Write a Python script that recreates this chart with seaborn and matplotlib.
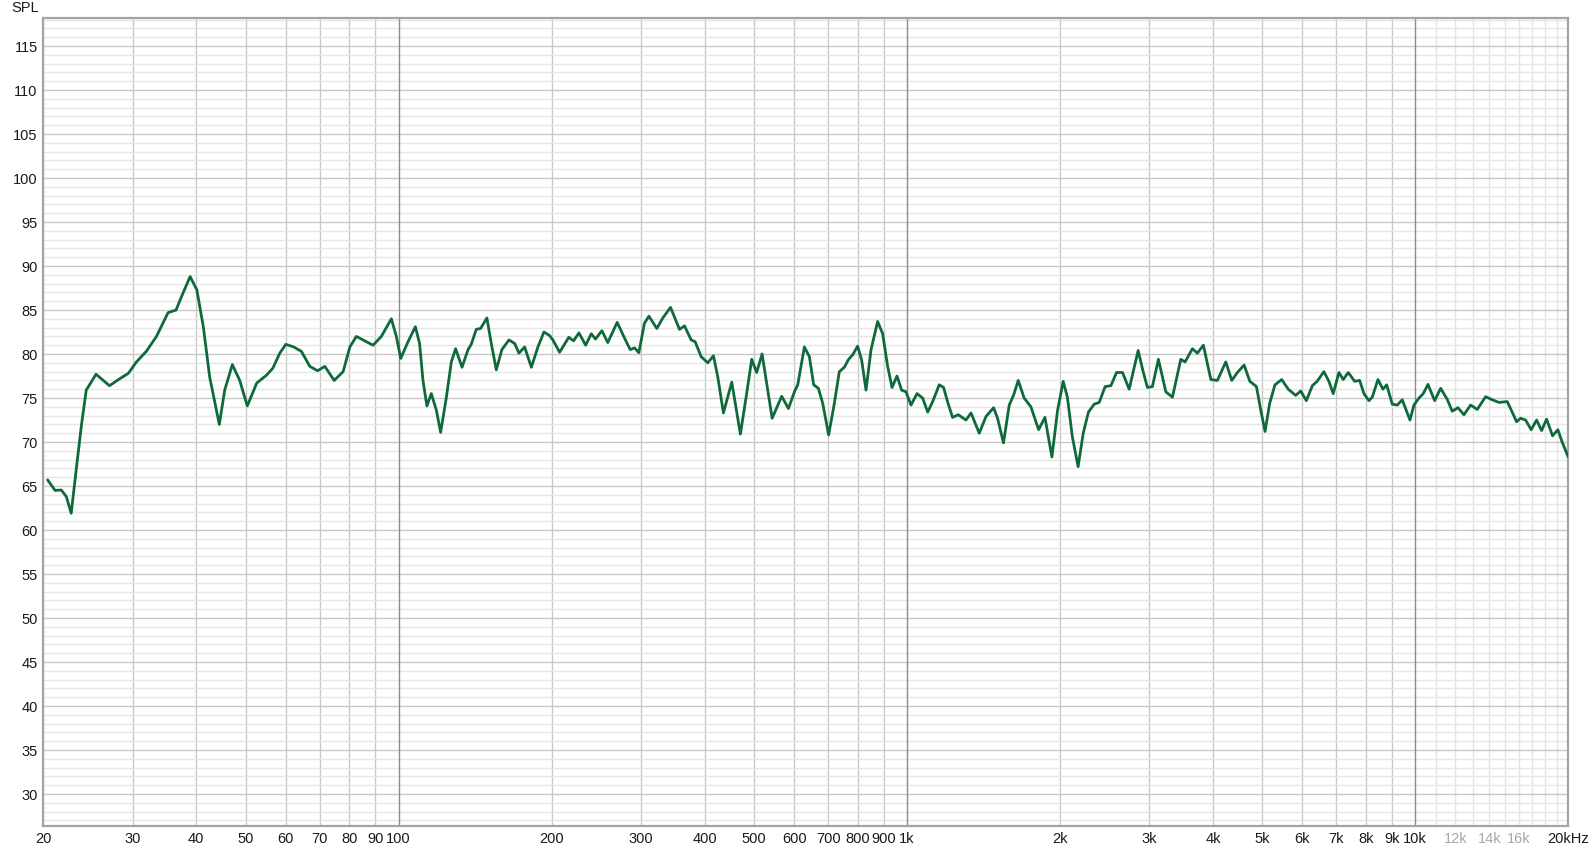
import matplotlib
matplotlib.use("Agg")
import matplotlib.pyplot as plt
from matplotlib.ticker import NullLocator
import seaborn as sns

# ---------------- DATA ----------------
freq_hz = [
    20.4, 21.1, 21.7, 22.2, 22.7, 23.3, 23.8, 24.3, 25.4, 27.0, 28.3, 29.4, 30.5, 31.9, 33.4, 35.2,
    36.5, 37.4, 38.9, 40.1, 41.3, 42.5, 44.4, 45.5, 47.1, 48.7, 50.4, 52.6, 55.0, 56.6, 58.4, 60.0, 62.2,
    64.4, 66.9, 69.3, 71.6, 74.7, 77.8, 80.2, 82.6, 85.8, 89.1, 92.5, 96.8, 99.0, 101, 104.4, 107.9,
    110, 111.7, 113.7, 116, 118.7, 121, 124.2, 127, 129.5, 133.3, 137, 139, 142.2, 145, 149.2, 152.2,
    155.7, 159.7, 164.9, 169.2, 172.5, 177, 182.5, 188, 193.2, 198.2,
    201.2, 207.4, 216.2, 221, 226.4, 233.4, 239.4, 244, 251.2, 258, 269.2, 278.4, 285.6, 291.2, 297,
    304.6, 310.8, 322.2, 331, 342.8, 349, 357, 365.2, 376.4, 383.2, 393.8, 405.8, 416.4, 424.6, 435.6,
    452.4, 470.4, 482.8, 495.2, 506.4, 519, 532.4, 543.2, 567.2, 584.8, 600.8, 610, 628.6,
    643, 655.6, 669.8, 683, 701.6, 720, 736.4, 753.4, 768.2, 782.2, 800, 814.8, 831, 850.2, 876, 896.2,
    916.6, 935, 956.4, 976.4, 996, 1019, 1047, 1074, 1099, 1124, 1158, 1181, 1202, 1230, 1262, 1307,
    1337, 1388, 1431, 1481, 1508, 1549, 1590, 1621, 1656, 1701, 1754, 1816, 1869, 1929, 1979,
    2030, 2069, 2116, 2172, 2223, 2276, 2336, 2390, 2455, 2520, 2585, 2656, 2737, 2851, 2916, 2973,
    3041, 3125, 3232, 3330, 3458, 3526, 3645, 3728, 3831, 3963, 4082, 4240, 4357, 4469, 4607, 4728,
    4872, 4969, 5066, 5173, 5298, 5462, 5628, 5819, 5954, 6107, 6276,
    6414, 6612, 6764, 6898, 7078, 7218, 7384, 7602, 7776, 7928, 8110, 8233, 8448, 8641, 8788, 9013,
    9219, 9430, 9766, 9943, 10172, 10372, 10596, 10921, 11221, 11561, 11826, 12137, 12472, 12856,
    13245, 13758, 14177, 14613, 15171, 15517, 15830, 16118, 16488, 16911, 17332, 17728, 18132, 18630,
    19084, 19457, 20000,
]

spl_db = [
    65.7, 64.5, 64.55, 63.8, 61.9, 67.6, 72.1, 75.9, 77.7, 76.4, 77.2, 77.8, 79.1, 80.3, 82.0, 84.7,
    85.0, 86.5, 88.8, 87.3, 83.1, 77.4, 72.0, 75.9, 78.8, 77.0, 74.1, 76.7, 77.6, 78.4, 80.1, 81.1, 80.8,
    80.3, 78.6, 78.1, 78.6, 77.0, 78.0, 80.8, 82.0, 81.5, 81.0, 82.0, 84.0, 82.0, 79.5, 81.4, 83.1,
    81.2, 77.0, 74.1, 75.5, 73.6, 71.1, 75.1, 79.1, 80.6, 78.5, 80.5, 81.1, 82.8, 82.9, 84.1, 81.2,
    78.2, 80.5, 81.6, 81.2, 80.1, 80.8, 78.5, 80.8, 82.5, 82.1,
    81.6, 80.2, 81.9, 81.5, 82.4, 81.0, 82.3, 81.7, 82.65, 81.3, 83.6, 81.8, 80.5, 80.7, 80.15,
    83.5, 84.3, 82.9, 84.1, 85.3, 84.2, 82.8, 83.2, 81.6, 81.4, 79.7, 79.0, 79.8, 77.4, 73.3,
    76.8, 70.9, 75.1, 79.4, 77.9, 80.0, 75.9, 72.7, 75.2, 73.8, 75.7, 76.5, 80.8,
    79.7, 76.5, 76.1, 74.4, 70.8, 74.4, 78.0, 78.5, 79.4, 79.9, 80.9, 79.3, 75.9, 80.5, 83.7, 82.3,
    78.6, 76.2, 77.5, 75.9, 75.7, 74.2, 75.5, 75.0, 73.4, 74.6, 76.5, 76.2, 74.6, 72.8, 73.1, 72.5,
    73.3, 71.0, 72.9, 73.9, 72.7, 69.9, 74.2, 75.3, 77.0, 75.0, 74.0, 71.4, 72.8, 68.3, 73.6,
    76.9, 75.1, 70.6, 67.2, 71.0, 73.4, 74.3, 74.5, 76.3, 76.4, 77.9, 77.9, 76.0, 80.4, 78.0, 76.2,
    76.3, 79.4, 75.7, 75.1, 79.4, 79.1, 80.6, 80.1, 81.0, 77.1, 77.0, 79.1, 77.0, 77.9, 78.75, 76.9,
    76.3, 73.6, 71.2, 74.4, 76.5, 77.1, 76.0, 75.3, 75.8, 74.7, 76.4,
    76.9, 78.0, 76.9, 75.5, 77.9, 77.1, 77.9, 76.9, 77.0, 75.5, 74.7, 75.1, 77.1, 76.0, 76.5, 74.3,
    74.2, 74.8, 72.5, 74.2, 75.0, 75.5, 76.55, 74.7, 76.1, 74.85, 73.5, 73.9, 73.1, 74.2,
    73.7, 75.15, 74.8, 74.5, 74.6, 73.4, 72.3, 72.7, 72.5, 71.4, 72.5, 71.3, 72.6, 70.7,
    71.4, 70.0, 68.3,
]

x_tick_freqs = [20, 30, 40, 50, 60, 70, 80, 90, 100, 200, 300, 400, 500, 600, 700, 800, 900,
                1000, 2000, 3000, 4000, 5000, 6000, 7000, 8000, 9000, 10000, 12000, 14000, 16000, 20000]
x_tick_labels = ["20", "30", "40", "50", "60", "70", "80", "90", "100", "200", "300", "400", "500",
                 "600", "700", "800", "900", "1k", "2k", "3k", "4k", "5k", "6k", "7k", "8k", "9k",
                 "10k", "12k", "14k", "16k", "20kHz"]
faded_labels = ["12k", "14k", "16k"]
y_ticks = list(range(30, 120, 5))

# ---------------- STYLE ----------------
sns.set_theme(style="white")
plt.rcParams["font.family"] = ["Liberation Sans", "DejaVu Sans"]

fig = plt.figure(figsize=(15.9, 8.51), dpi=100)
ax = fig.add_axes([0.0272, 0.029, 0.9591, 0.9495])

# ---------------- GRID ----------------
for base in [10, 100, 1000]:
    for m in range(2, 10):
        f = base * m
        if f < 20:
            continue
        ax.axvline(f, color="#c8c8c8", lw=1, zorder=0.5)
for f in [100, 1000, 10000]:
    ax.axvline(f, color="#8c8c8c", lw=1, zorder=0.6)
for m in range(11, 20):
    ax.axvline(m * 1000, color="#e4e4e4", lw=1, zorder=0.5)

ax.set_yticks(y_ticks)
ax.set_yticks(range(27, 119), minor=True)
ax.grid(which="major", axis="y", color="#c8c8c8", lw=1)
ax.grid(which="minor", axis="y", color="#e6e6e6", lw=1)
ax.set_axisbelow(True)

# ---------------- CURVE ----------------
sns.lineplot(x=freq_hz, y=spl_db, ax=ax, color="#0f6a3a", linewidth=2.0,
             sort=False, estimator=None, zorder=3,
             solid_joinstyle="round", solid_capstyle="round")

ax.set_xscale("log")
ax.set_xlim(20, 20000)
ax.set_ylim(26.33, 118.15)

ax.set_xticks(x_tick_freqs)
ax.set_xticklabels(x_tick_labels)
ax.xaxis.set_minor_locator(NullLocator())

ax.tick_params(axis="both", which="both", length=0, labelsize=10.5, colors="#1a1a1a", pad=4)
for lbl in ax.get_xticklabels():
    if lbl.get_text() in faded_labels:
        lbl.set_color("#a8a8a8")

ax.set_xlabel("")
ax.set_ylabel("")
for s in ax.spines.values():
    s.set_color("#a4a4a4")
    s.set_linewidth(1.6)

fig.text(38.5 / 1590, 1 - 8 / 851, "SPL", ha="right", va="center", fontsize=10.5, color="#1a1a1a")

fig.savefig("out.png", dpi=100)
